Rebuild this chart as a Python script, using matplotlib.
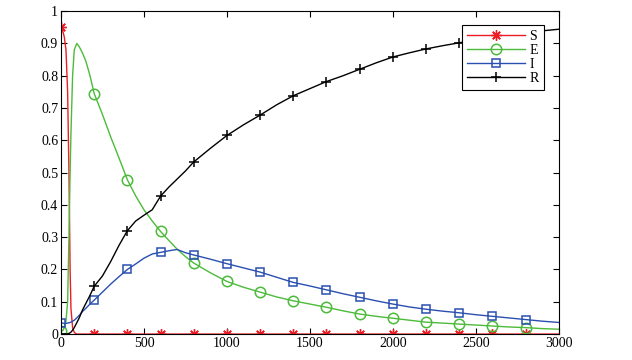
import numpy as np
import matplotlib
matplotlib.use("Agg")
import matplotlib.pyplot as plt

# time points
t = [0, 10, 20, 30, 40, 48, 55, 60, 70, 80, 95, 110, 130, 150, 175, 200,
     250, 300, 350, 400, 450, 500, 550, 600, 650, 700, 750, 800,
     900, 1000, 1100, 1200, 1300, 1400, 1500, 1600, 1700, 1800, 1900, 2000,
     2100, 2200, 2300, 2400, 2500, 2600, 2700, 2800, 2900, 3000]

S = [0.95, 0.94, 0.92, 0.88, 0.75, 0.5, 0.2, 0.08, 0.02, 0.005, 0, 0, 0, 0, 0, 0,
     0, 0, 0, 0, 0, 0, 0, 0, 0, 0, 0, 0,
     0, 0, 0, 0, 0, 0, 0, 0, 0, 0, 0, 0,
     0, 0, 0, 0, 0, 0, 0, 0, 0, 0]

E = [0.01, 0.01, 0.02, 0.04, 0.1, 0.3, 0.5, 0.62, 0.8, 0.88, 0.9, 0.89, 0.87, 0.845, 0.8, 0.745,
     0.68, 0.61, 0.545, 0.478, 0.428, 0.385, 0.35, 0.318, 0.29, 0.263, 0.24, 0.22,
     0.19, 0.163, 0.145, 0.13, 0.115, 0.103, 0.093, 0.083, 0.072, 0.062, 0.055, 0.049,
     0.043, 0.037, 0.034, 0.031, 0.028, 0.025, 0.022, 0.02, 0.017, 0.015]

I = [0.035, 0.034, 0.033, 0.033, 0.034, 0.035, 0.036, 0.037, 0.04, 0.043, 0.05, 0.058, 0.07, 0.08, 0.093, 0.105,
     0.13, 0.155, 0.178, 0.2, 0.217, 0.235, 0.248, 0.253, 0.258, 0.262, 0.252, 0.245,
     0.232, 0.218, 0.205, 0.192, 0.176, 0.16, 0.149, 0.137, 0.125, 0.114, 0.103, 0.093,
     0.084, 0.077, 0.071, 0.066, 0.06, 0.055, 0.05, 0.045, 0.04, 0.036]

R = [0, 0, 0, 0, 0.001, 0.002, 0.004, 0.006, 0.012, 0.02, 0.035, 0.05, 0.075, 0.095, 0.12, 0.148,
     0.18, 0.225, 0.275, 0.32, 0.35, 0.368, 0.385, 0.427, 0.455, 0.48, 0.505, 0.533,
     0.575, 0.615, 0.648, 0.678, 0.71, 0.738, 0.76, 0.782, 0.8, 0.82, 0.84, 0.858,
     0.871, 0.883, 0.893, 0.902, 0.911, 0.918, 0.926, 0.933, 0.939, 0.944]

plt.rcParams['font.family'] = ['Liberation Serif', 'DejaVu Serif']
plt.rcParams['font.size'] = 10

# markers every 200 time units, up to 2800
marks = [i for i, v in enumerate(t) if v % 200 == 0 and v <= 2800]

fig = plt.figure(figsize=(6.32, 3.6), dpi=100)
ax = fig.add_axes([0.0965, 0.072, 0.7875, 0.897])

asterisk = (8, 2, 0)
ax.plot(t, S, color='#ee1c25', lw=1, marker=asterisk, ms=7.5, mew=1, markevery=marks, label='S')
ax.plot(t, E, color='#4cbb3a', lw=1, marker='o', ms=7.5, mfc='none', mew=1.1, markevery=marks, label='E')
ax.plot(t, I, color='#2a4fb0', lw=1, marker='s', ms=5.5, mfc='none', mew=1.1, markevery=marks, label='I')
ax.plot(t, R, color='black', lw=1, marker='+', ms=7.5, mew=1.1, markevery=marks, label='R')

ax.set_xlim(0, 3000)
ax.set_ylim(0, 1)
ax.set_xticks(np.arange(0, 3001, 500))
ax.set_yticks(np.arange(0, 1.01, 0.1))
ax.set_yticklabels(['0', '0.1', '0.2', '0.3', '0.4', '0.5', '0.6', '0.7', '0.8', '0.9', '1'])
ax.tick_params(direction='in', top=True, right=True, length=4, width=0.8, pad=2)
for sp in ax.spines.values():
    sp.set_linewidth(0.8)

leg = ax.legend(loc='upper right', bbox_to_anchor=(0.97, 0.957), fancybox=False,
                framealpha=1, edgecolor='black', handlelength=4.2, borderpad=0.35,
                labelspacing=0.08, handletextpad=0.3, borderaxespad=0)
leg.get_frame().set_linewidth(0.8)

fig.savefig('out.png', dpi=100)
